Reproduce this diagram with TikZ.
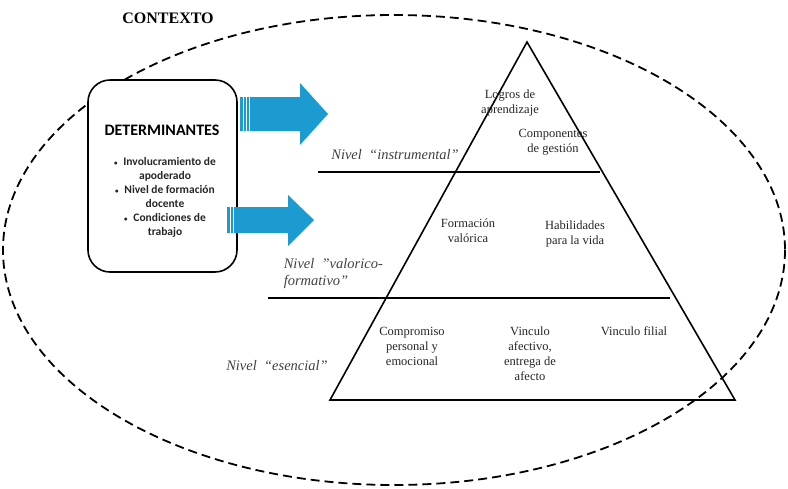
\documentclass[tikz,border=0pt]{standalone}
\usepackage{fontspec}
\setmainfont{Liberation Serif}
\newfontfamily\tnr[Ligatures=TeX]{Liberation Serif}
\newfontfamily\calib{Carlito}
\usetikzlibrary{positioning}

\definecolor{arrowblue}{RGB}{28,155,208}
\newcommand{\bulletmark}{{\fontsize{7}{7}\selectfont•}\enspace}

\begin{document}
\begin{tikzpicture}[x=1pt,y=-1pt,line width=1.6pt,
    lvl/.style={font=\tnr\fontsize{14.5}{17}\selectfont\itshape,text=black!75,align=left,inner sep=0pt},
    item/.style={font=\tnr\fontsize{12.5}{15}\selectfont,text=black!85,align=center,inner sep=0pt},
    stripe/.style={draw=white,line width=0.7pt}]

\useasboundingbox (0,0) rectangle (788,488);

% contexto
\draw[dash pattern=on 9pt off 5pt,line width=1.8pt] (394,250) ellipse [x radius=391, y radius=235];
\node[font=\tnr\fontsize{16}{18}\selectfont\bfseries] (ctx) at (168,18) {CONTEXTO};

% determinantes
\draw[rounded corners=22pt,fill=white] (88,80) rectangle (237,272);
\node[font=\calib\fontsize{16}{18}\selectfont\bfseries] (det) at (162,130) {DETERMINANTES};
\node[font=\calib\fontsize{11.5}{14}\selectfont\bfseries,align=center,inner sep=0pt,text=black!85] (dlist) at (165,197)
  {\bulletmark Involucramiento de\\apoderado\\\bulletmark Nivel de formación\\docente\\\bulletmark Condiciones de\\trabajo};

% flechas
\fill[arrowblue] (240,97) -- (300,97) -- (300,83) -- (328,114) -- (300,145) -- (300,131) -- (240,131) -- cycle;
\foreach \x in {243,246,249} \draw[stripe] (\x,97) -- (\x,131);
\fill[arrowblue] (227,207) -- (288,207) -- (288,195) -- (314,220) -- (288,246) -- (288,233) -- (227,233) -- cycle;
\foreach \x in {230,233} \draw[stripe] (\x,207) -- (\x,233);

% piramide
\coordinate (top) at (527,42);
\coordinate (bl) at (330,400);
\coordinate (br) at (735,400);
\draw (top) -- (bl) -- (br) -- cycle;
\draw (318,172) -- (600,172);
\draw (268,298) -- (670,298);

\node[lvl] (n1) at (395,155) {Nivel \ “instrumental”};
\node[lvl,anchor=west] (n2) at (283,274) {Nivel\ \ "valorico-\\formativo"};
\node[lvl] (n3) at (277,366) {Nivel \ “esencial”};

\node[item] (logros) at (510,103) {Logros de\\aprendizaje};
\node[item] (gestion) at (553,142) {Componentes\\de gestión};
\node[item] (formacion) at (468,231) {Formación\\valórica};
\node[item] (habil) at (575,234) {Habilidades\\para la vida};
\node[item,anchor=north] (comp) at (412,326) {Compromiso\\personal y\\emocional};
\node[item,anchor=north] (afect) at (530,326) {Vinculo\\afectivo,\\entrega de\\afecto};
\node[item,anchor=north] (filial) at (634,326) {Vinculo filial};

\end{tikzpicture}
\end{document}
